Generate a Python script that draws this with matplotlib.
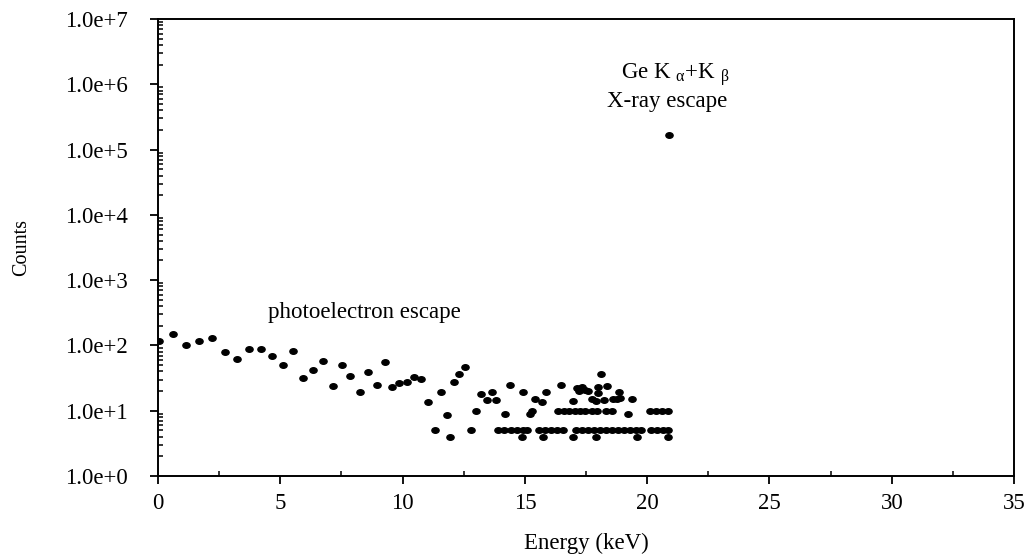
import matplotlib
matplotlib.use("Agg")
import matplotlib.pyplot as plt
from matplotlib.path import Path
from matplotlib.ticker import LogLocator, MultipleLocator, NullFormatter

plt.rcParams['font.family'] = ['Liberation Serif', 'DejaVu Serif']
plt.rcParams['mathtext.fontset'] = 'custom'
plt.rcParams['mathtext.rm'] = 'Liberation Serif'
plt.rcParams['mathtext.it'] = 'Liberation Serif'

# photoelectron escape + low level counts (keV, counts)
energy = [0.05, 0.63, 1.15, 1.69, 2.21, 2.75, 3.24, 3.73, 4.2, 4.66, 5.1, 5.53, 5.94, 6.35,
          6.76, 7.14, 7.52, 7.86, 8.24, 8.6, 8.94, 9.28, 9.57, 9.87, 10.19, 10.48, 10.77,
          11.05, 11.32, 11.58, 11.8, 11.92, 12.09, 12.31, 12.57, 12.8, 12.99, 13.22, 13.45,
          13.65, 13.83,
          13.9, 14.15, 14.19, 14.39, 14.43, 14.68, 14.92, 15.1, 14.9, 14.94, 15.2, 15.3,
          15.41, 15.69, 15.58, 15.82, 16.07, 16.31, 15.73, 15.85, 16.47, 16.37,
          16.58, 16.8, 17.05, 17.25, 17.46, 17.74, 17.95, 18.32, 18.56, 19.22,
          20.12, 20.36, 20.61, 20.85,
          16.56, 17.09, 17.34, 17.58, 17.83, 18.07, 18.32, 18.56, 18.81, 19.05, 19.3,
          19.54, 19.75, 20.16, 20.4, 20.65, 20.85,
          16.98, 17.89, 19.57, 20.84,
          16.98, 17.12, 17.21, 17.32, 17.46, 17.57, 17.76, 17.89, 18.0, 18.0, 18.13,
          18.34, 18.25, 18.62, 18.78, 18.85, 18.9, 19.36]
counts = [118, 152, 102, 118, 131, 78, 61, 87, 87, 69, 50, 82, 32, 42,
          58, 24, 51, 34, 19, 39, 25, 55, 23, 27, 28, 33, 31,
          13.5, 5, 19, 8.6, 4, 28, 37, 46, 5, 10, 18, 14.5,
          19, 14.5,
          5, 5, 9, 25, 5, 5, 5, 5, 4, 19, 9, 10,
          15, 13.5, 5, 5, 5, 5, 4, 19, 25, 10,
          10, 10, 10, 10, 10, 10, 10, 10, 10, 9,
          10, 10, 10, 10,
          5, 5, 5, 5, 5, 5, 5, 5, 5, 5, 5,
          5, 5, 5, 5, 5, 5,
          4, 4, 4, 4,
          14, 22, 20, 23, 21, 20, 15, 14, 23, 18.5, 36,
          24, 14.5, 15, 15, 19, 15.5, 15]

# Ge K x-ray escape peak
peak_energy = [20.9]
peak_counts = [1.66e5]

ytick_vals = [1e0, 1e1, 1e2, 1e3, 1e4, 1e5, 1e6, 1e7]
ytick_labels = ['1.0e+0', '1.0e+1', '1.0e+2', '1.0e+3', '1.0e+4', '1.0e+5', '1.0e+6', '1.0e+7']

# slightly wide dots, like the original
circ = Path.unit_circle()
dot = Path(circ.vertices * [1.3, 1.0], circ.codes)

fig = plt.figure(figsize=(10.34, 5.58), dpi=100)
ax = fig.add_axes([0.1528, 0.147, 0.8279, 0.8189])

ax.plot(energy, counts, linestyle='none', marker=dot, markersize=5.2, color='black')
ax.plot(peak_energy, peak_counts, linestyle='none', marker=dot, markersize=5.2, color='black')

ax.set_yscale('log')
ax.set_xlim(0, 35)
ax.set_ylim(1, 1e7)
ax.set_yticks(ytick_vals)
ax.set_yticklabels(ytick_labels)
ax.yaxis.set_minor_locator(LogLocator(base=10, subs=range(2, 10)))
ax.yaxis.set_minor_formatter(NullFormatter())
ax.xaxis.set_major_locator(MultipleLocator(5))
ax.xaxis.set_minor_locator(MultipleLocator(2.5))

for s in ax.spines.values():
    s.set_linewidth(1.4)
ax.tick_params(which='major', direction='out', length=6, width=1.3, labelsize=16.5, pad=16)
ax.tick_params(which='minor', direction='in', length=3.5, width=1.1)
ax.tick_params(axis='x', which='major', pad=6)

ax.set_xlabel('Energy (keV)', fontsize=16.5, labelpad=14)
ax.set_ylabel('Counts', fontsize=14.5, labelpad=24)

ax.text(4.5, 3.25e2, 'photoelectron escape', fontsize=16.5, ha='left', va='center')
ax.text(21.14, 1.43e6, r'Ge K $_{\alpha}$+K $_{\beta}$', fontsize=16.5, ha='center', va='center')
ax.text(20.8, 5.5e5, 'X-ray escape', fontsize=16.5, ha='center', va='center')

fig.savefig('out.png', dpi=100)
